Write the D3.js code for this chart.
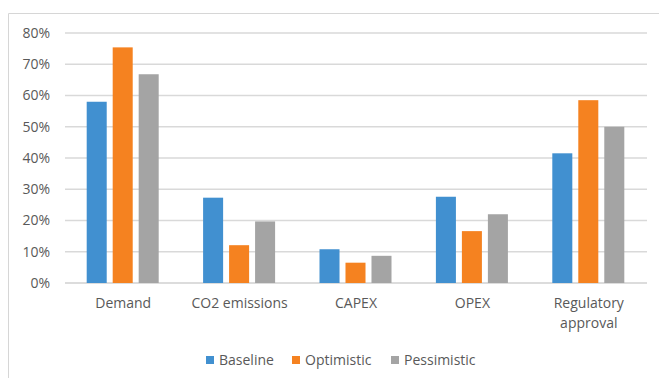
<!DOCTYPE html>
<html>
<head>
<meta charset="utf-8">
<script src="https://cdn.jsdelivr.net/npm/d3@7"></script>
<style>
  html, body { margin: 0; padding: 0; background: #fff; }
  svg { display: block; font-family: "Open Sans", "Noto Sans", sans-serif; }
</style>
</head>
<body>
<svg id="chart" width="659" height="378"></svg>
<script>
// Scenario shares by driver
const categories = ["Demand", "CO2 emissions", "CAPEX", "OPEX", "Regulatory approval"];
const seriesNames = ["Baseline", "Optimistic", "Pessimistic"];
const baseline    = [0.58, 0.273, 0.108, 0.276, 0.415];
const optimistic  = [0.754, 0.121, 0.065, 0.166, 0.585];
const pessimistic = [0.668, 0.197, 0.087, 0.22, 0.50];
const yTicks = [0, 0.1, 0.2, 0.3, 0.4, 0.5, 0.6, 0.7, 0.8];
const colors = ["#4190d0", "#f58220", "#a4a4a4"];

const seriesValues = [baseline, optimistic, pessimistic];
const svg = d3.select("#chart");
const groupWidth = 72;

// chart frame
svg.append("path")
  .attr("d", "M8.5,378 V13.5 H659")
  .attr("fill", "none")
  .attr("stroke", "#d6d6d6")
  .attr("stroke-width", 1);

const plot = { left: 65, right: 647, top: 33, bottom: 283 };

const y = d3.scaleLinear().domain([0, 0.8]).range([plot.bottom, plot.top]);
const x0 = d3.scaleBand().domain(categories).range([plot.left, plot.right]).paddingInner(0).paddingOuter(0);
const x1 = d3.scaleBand().domain(seriesNames).range([0, groupWidth]).paddingInner(0.23).paddingOuter(0);

// gridlines
svg.append("g")
  .selectAll("line")
  .data(yTicks)
  .join("line")
  .attr("x1", plot.left).attr("x2", plot.right)
  .attr("y1", d => y(d)).attr("y2", d => y(d))
  .attr("stroke", d => d === 0 ? "#d0d0d0" : "#d9d9d9")
  .attr("stroke-width", 1.5);

// y axis labels
const yAxis = d3.axisLeft(y).tickValues(yTicks).tickFormat(d3.format(".0%")).tickSize(0).tickPadding(0);
const gy = svg.append("g").attr("transform", `translate(${plot.left - 15},0)`).call(yAxis);
gy.select(".domain").remove();
gy.selectAll("text")
  .attr("fill", "#595959")
  .style("font-size", "14px")
  .style("font-family", "'Open Sans', sans-serif");

// bars
const groups = svg.append("g")
  .selectAll("g")
  .data(categories)
  .join("g")
  .attr("transform", d => `translate(${x0(d) + (x0.bandwidth() - groupWidth) / 2 - 0.5},0)`);

groups.selectAll("rect")
  .data((d, i) => seriesNames.map((s, j) => ({ s, v: seriesValues[j][i], c: colors[j] })))
  .join("rect")
  .attr("x", d => x1(d.s))
  .attr("width", x1.bandwidth())
  .attr("y", d => y(d.v))
  .attr("height", d => y(0) - y(d.v))
  .attr("fill", d => d.c);

// category labels
const catLines = {
  "Demand": ["Demand"],
  "CO2 emissions": ["CO2 emissions"],
  "CAPEX": ["CAPEX"],
  "OPEX": ["OPEX"],
  "Regulatory approval": ["Regulatory", "approval"]
};
svg.append("g")
  .selectAll("text")
  .data(categories)
  .join("text")
  .attr("x", d => x0(d) + x0.bandwidth() / 2)
  .attr("y", 308)
  .attr("text-anchor", "middle")
  .attr("fill", "#595959")
  .style("font-size", "14px")
  .each(function (d) {
    d3.select(this).selectAll("tspan")
      .data(catLines[d])
      .join("tspan")
      .attr("x", x0(d) + x0.bandwidth() / 2)
      .attr("dy", (t, i) => i === 0 ? 0 : 20)
      .text(t => t);
  });

// legend
const legendX = [206, 292, 391];
const legend = svg.append("g")
  .selectAll("g")
  .data(seriesNames)
  .join("g")
  .attr("transform", (d, i) => `translate(${legendX[i]},356)`);
legend.append("rect")
  .attr("width", 8).attr("height", 8)
  .attr("fill", (d, i) => colors[i]);
legend.append("text")
  .attr("x", 13).attr("y", 9)
  .attr("fill", "#595959")
  .style("font-size", "14px")
  .text(d => d);
</script>
</body>
</html>
